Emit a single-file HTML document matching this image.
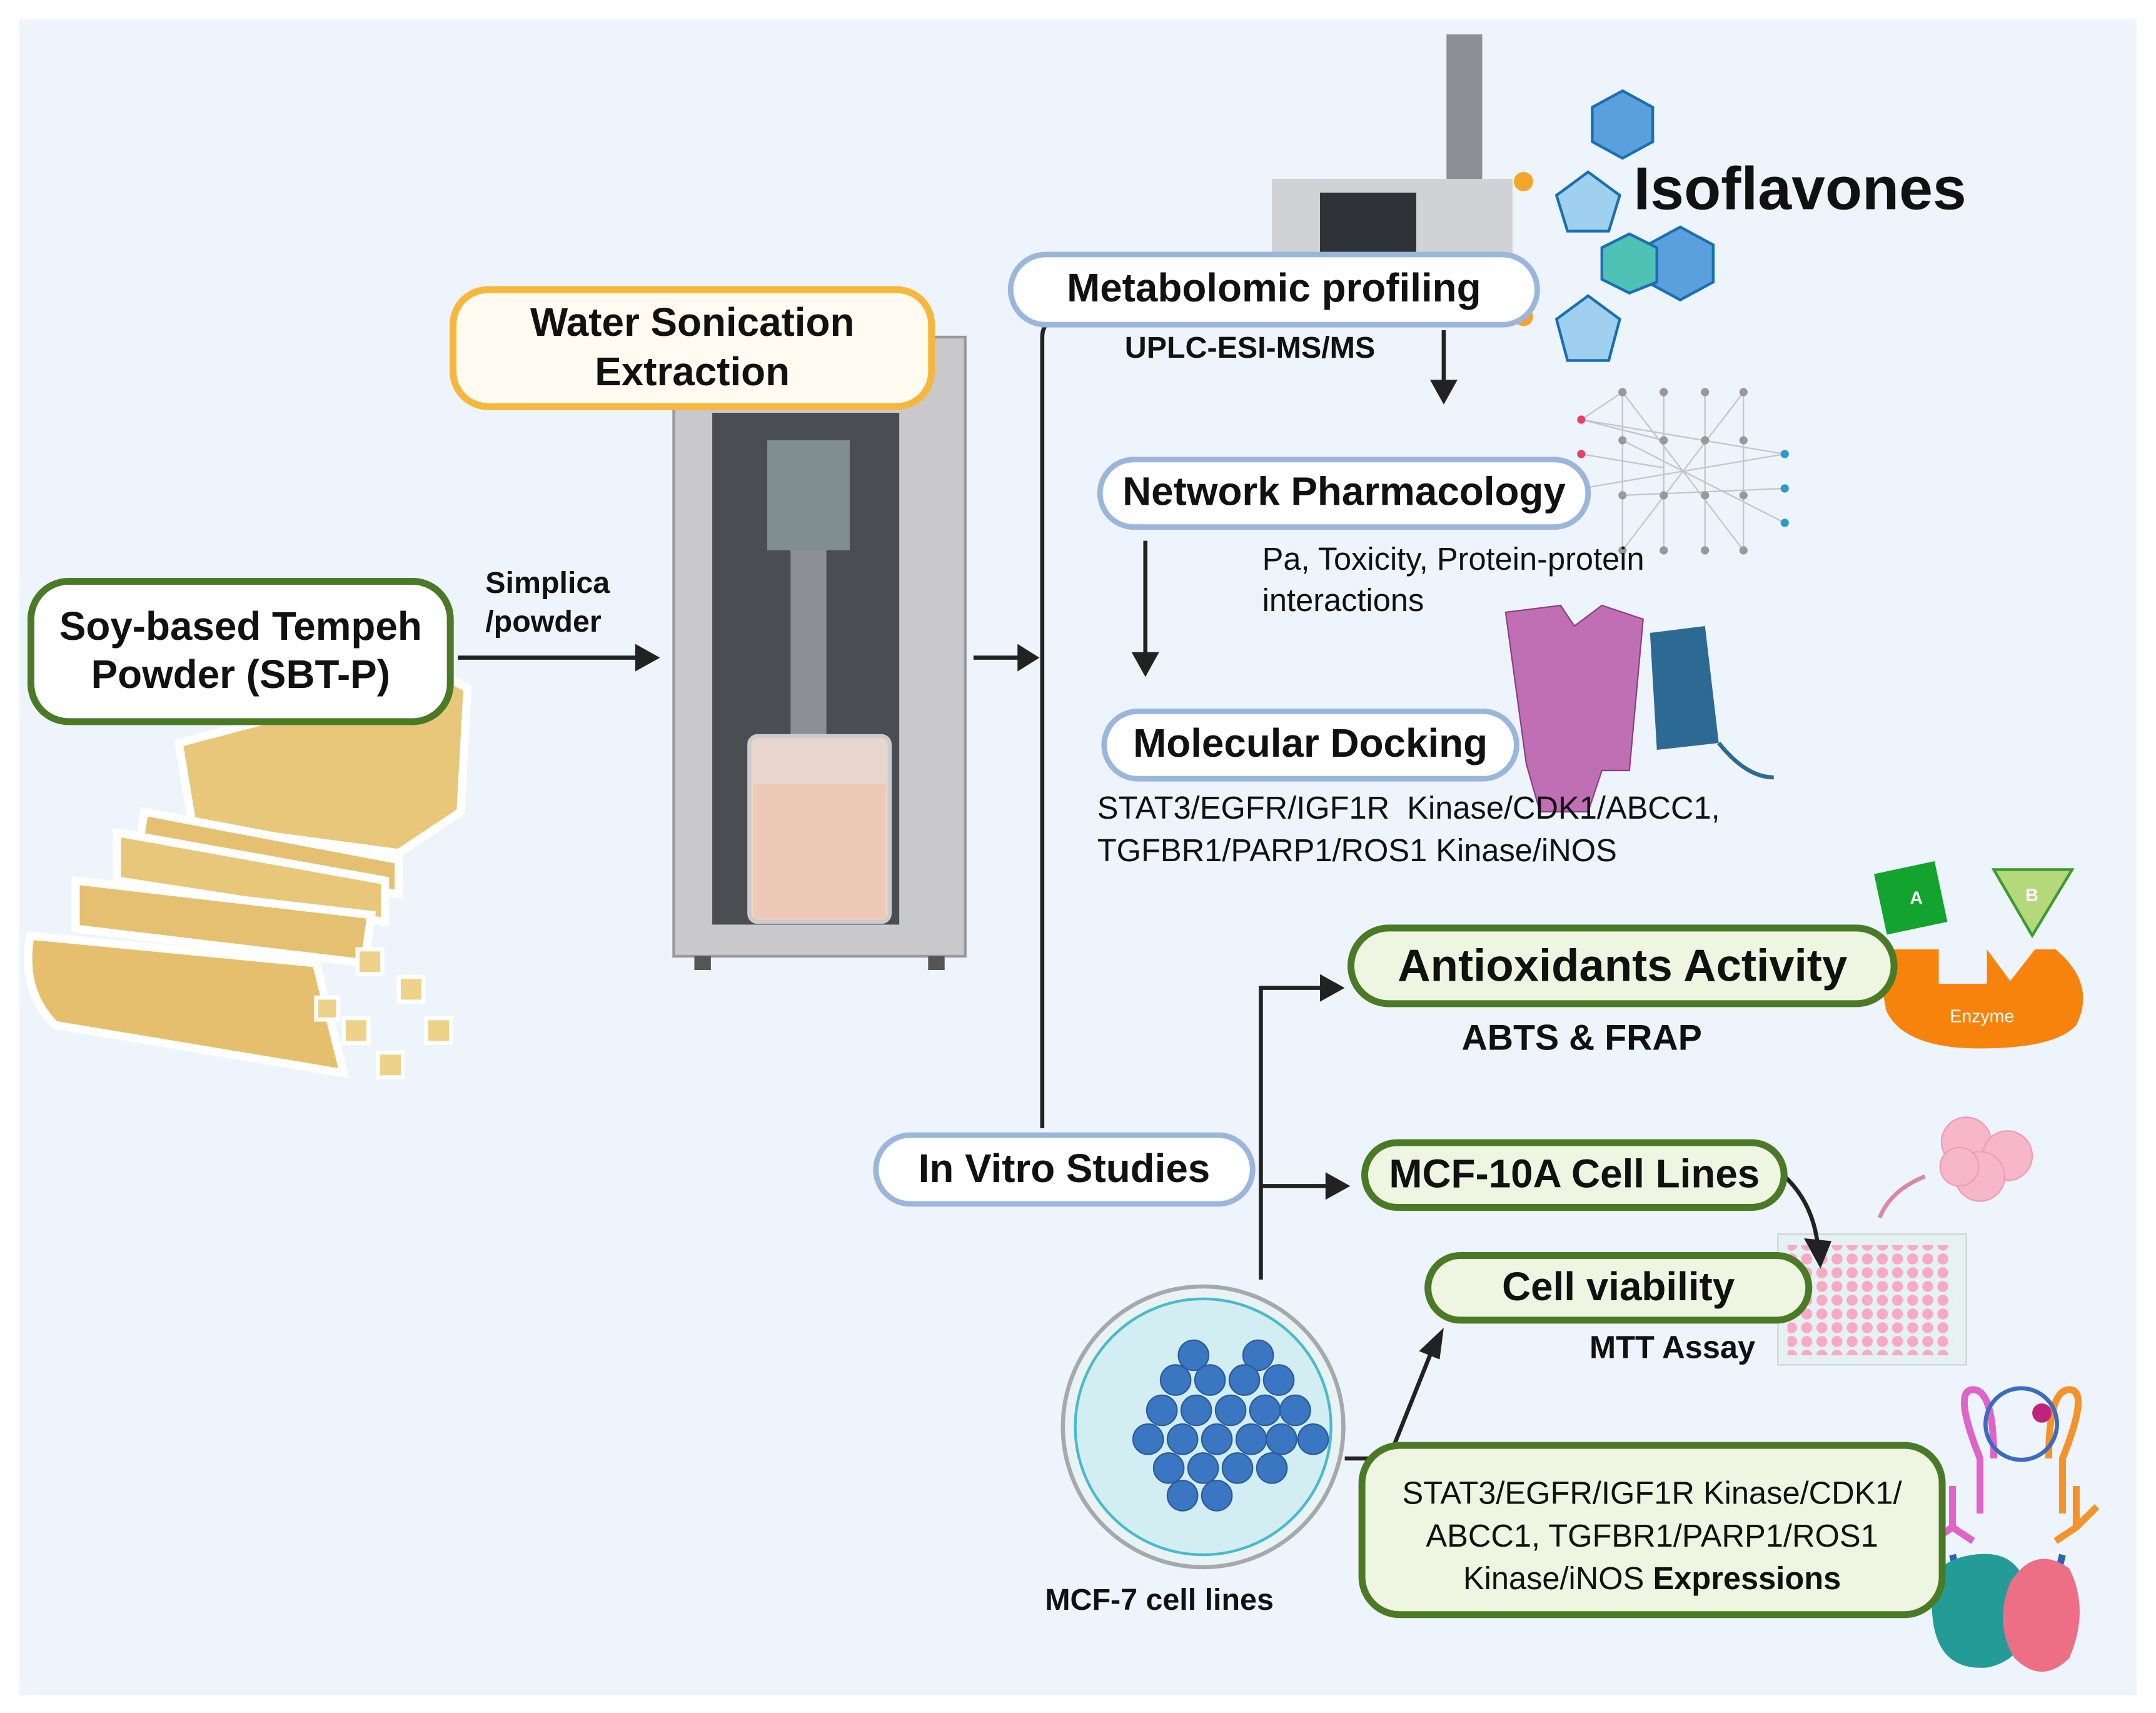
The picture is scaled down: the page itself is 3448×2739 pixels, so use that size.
<!DOCTYPE html>
<html><head><meta charset="utf-8">
<style>
html,body{margin:0;padding:0;background:#fff;}
#wrap{width:3448px;height:2739px;overflow:hidden;position:relative;background:#fff;}
#s{position:absolute;left:0;top:0;width:1568px;height:1245px;transform-origin:0 0;transform:scale(2.19898,2.2);font-family:"Liberation Sans",sans-serif;}
.bg{position:absolute;left:14px;top:14px;width:1540px;height:1218px;background:#edf4fb;}
.box{position:absolute;box-sizing:border-box;display:flex;align-items:center;justify-content:center;text-align:center;font-weight:bold;color:#111;}
.blue{border:4px solid #9bb6dd;background:#fff;border-radius:28px;font-size:29px;}
.green{border:5px solid #4b7a26;background:#eef6e2;border-radius:30px;}
.t{position:absolute;color:#111;white-space:nowrap;}
</style></head><body><div id="wrap"><div id="s">
<div class="bg"></div>
<svg width="1568" height="1245" style="position:absolute;left:0;top:0">
<defs><pattern id="p" width="11" height="10" patternUnits="userSpaceOnUse"><circle cx="5" cy="5" r="4" fill="#f7a9c6"/></pattern></defs>
<!-- sonicator -->
<rect x="490" y="245" width="212" height="450" fill="#c9c9cc" stroke="#9a9a9e" stroke-width="2"/>
<rect x="518" y="300" width="136" height="372" fill="#4a4d52"/>
<rect x="558" y="320" width="60" height="80" fill="#9aa" opacity=".7"/>
<rect x="575" y="400" width="26" height="140" fill="#8b8f94"/>
<rect x="545" y="535" width="102" height="135" fill="#e9d7cf" stroke="#ccc" stroke-width="3" rx="6"/>
<rect x="548" y="570" width="96" height="98" fill="#eec9b7"/>
<rect x="505" y="695" width="12" height="10" fill="#555"/><rect x="675" y="695" width="12" height="10" fill="#555"/>
<!-- ms instrument -->
<rect x="1052" y="25" width="26" height="110" fill="#8c8f94"/>
<rect x="925" y="130" width="175" height="55" fill="#d0d2d5"/>
<rect x="960" y="140" width="70" height="45" fill="#2f3236"/>
<!-- molecules -->
<g stroke="#1a6fb3" stroke-width="2">
<polygon points="1180,66 1202,78 1202,103 1180,115 1158,103 1158,78" fill="#5aa0dc"/>
<polygon points="1155,125 1178,142 1170,168 1140,168 1132,142" fill="#9fd0f0"/>
<polygon points="1222,165 1246,178 1246,205 1222,218 1198,205 1198,178" fill="#5aa0dc"/>
<polygon points="1185,170 1205,180 1205,205 1185,213 1165,203 1165,180" fill="#4fc1b5"/>
<polygon points="1155,215 1178,232 1170,262 1140,262 1132,232" fill="#9fd0f0"/>
</g>
<circle cx="1108" cy="132" r="7" fill="#f4a62a"/><circle cx="1108" cy="230" r="7" fill="#f4a62a"/>
<!-- network -->
<g stroke="#c4c4c4" stroke-width="1" fill="none">
<path d="M1150,305 L1180,285 M1150,305 L1210,320 M1150,330 L1210,340 M1180,285 L1268,400 M1180,400 L1268,285 M1150,355 L1298,330 M1210,285 L1210,400 M1240,285 L1240,400 M1180,285 L1180,400 M1268,285 L1268,400 M1180,320 L1298,380 M1180,360 L1298,355 M1150,305 L1298,330"/>
</g>
<g fill="#999">
<circle cx="1180" cy="285" r="3"/><circle cx="1210" cy="285" r="3"/><circle cx="1240" cy="285" r="3"/><circle cx="1268" cy="285" r="3"/>
<circle cx="1180" cy="320" r="3"/><circle cx="1210" cy="320" r="3"/><circle cx="1240" cy="320" r="3"/><circle cx="1268" cy="320" r="3"/>
<circle cx="1180" cy="360" r="3"/><circle cx="1210" cy="360" r="3"/><circle cx="1240" cy="360" r="3"/><circle cx="1268" cy="360" r="3"/>
<circle cx="1180" cy="400" r="3"/><circle cx="1210" cy="400" r="3"/><circle cx="1240" cy="400" r="3"/><circle cx="1268" cy="400" r="3"/>
</g>
<circle cx="1150" cy="305" r="3" fill="#e4406c"/><circle cx="1150" cy="330" r="3" fill="#e4406c"/>
<circle cx="1298" cy="330" r="3" fill="#2a9ad0"/><circle cx="1298" cy="355" r="3" fill="#2a9ad0"/><circle cx="1298" cy="380" r="3" fill="#2a9ad0"/>
<!-- proteins -->
<path d="M1095,445 L1135,440 L1145,455 L1165,440 L1195,450 L1185,560 L1165,560 L1155,590 L1120,590 L1110,555 Z" fill="#c06fb5" stroke="#8a3f85"/>
<path d="M1200,460 L1240,455 L1250,540 L1205,545 Z" fill="#2c6a94"/>
<path d="M1250,540 Q1270,565 1290,565" stroke="#2c6a94" stroke-width="3" fill="none"/>
<!-- enzyme -->
<rect x="1367" y="630" width="45" height="45" fill="#13a32f" transform="rotate(-12 1390 652)"/>
<text x="1389" y="657" fill="#fff" font-size="13" font-weight="bold" font-family="Liberation Sans">A</text>
<polygon points="1450,632 1507,632 1478,680" fill="#b5d97a" stroke="#3c9a30" stroke-width="2"/>
<text x="1473" y="655" fill="#fff" font-size="13" font-weight="bold" font-family="Liberation Sans">B</text>
<path d="M1375,690 L1410,690 L1410,715 L1445,715 L1445,690 L1462,713 L1480,690 L1495,690 Q1525,715 1510,745 Q1495,762 1440,762 Q1385,762 1372,735 Q1365,705 1375,690 Z" fill="#f7830d"/>
<text x="1418" y="743" fill="#fff" font-size="13" font-family="Liberation Sans">Enzyme</text>
<!-- cells / plate -->
<g fill="#f6b8c8" stroke="#f29ab0"><circle cx="1430" cy="830" r="18"/><circle cx="1460" cy="840" r="18"/><circle cx="1440" cy="855" r="18"/><circle cx="1425" cy="848" r="14"/></g>
<path d="M1400,855 Q1375,865 1367,885" stroke="#d98aa0" stroke-width="3" fill="none"/>
<rect x="1293" y="897" width="137" height="95" fill="#e6f1f2" stroke="#c8d6d8"/>
<rect x="1300" y="905" width="120" height="80" fill="url(#p)"/>
<!-- petri -->
<circle cx="875" cy="1037" r="102" fill="#e9f3f4" stroke="#a5a9ad" stroke-width="3"/>
<circle cx="875" cy="1037" r="93" fill="#d3eef3" stroke="#4ab9cf" stroke-width="2"/>
<g fill="#3a76c2" stroke="#2a5a9a">
<circle cx="868" cy="985" r="11"/><circle cx="915" cy="985" r="11"/><circle cx="855" cy="1003" r="11"/><circle cx="880" cy="1003" r="11"/><circle cx="905" cy="1003" r="11"/><circle cx="930" cy="1003" r="11"/>
<circle cx="845" cy="1025" r="11"/><circle cx="870" cy="1025" r="11"/><circle cx="895" cy="1025" r="11"/><circle cx="920" cy="1025" r="11"/><circle cx="942" cy="1025" r="11"/>
<circle cx="835" cy="1046" r="11"/><circle cx="860" cy="1046" r="11"/><circle cx="885" cy="1046" r="11"/><circle cx="910" cy="1046" r="11"/><circle cx="932" cy="1046" r="11"/><circle cx="955" cy="1046" r="11"/>
<circle cx="850" cy="1067" r="11"/><circle cx="875" cy="1067" r="11"/><circle cx="900" cy="1067" r="11"/><circle cx="925" cy="1067" r="11"/>
<circle cx="860" cy="1087" r="11"/><circle cx="885" cy="1087" r="11"/>
</g>
<!-- antibodies & protein complex -->
<g stroke-width="5" fill="none">
<path d="M1440,1100 L1440,1060 Q1420,1010 1435,1010 Q1450,1010 1450,1060" stroke="#e063c8"/>
<path d="M1500,1100 L1500,1060 Q1520,1010 1505,1010 Q1490,1010 1490,1060" stroke="#f6922a"/>
<circle cx="1470" cy="1035" r="26" stroke="#3a6bc0" stroke-width="3"/>
<path d="M1420,1080 L1420,1110 M1405,1120 L1420,1110 L1435,1120" stroke="#e063c8"/>
<path d="M1510,1080 L1510,1110 M1495,1120 L1510,1110 L1525,1095" stroke="#f6922a"/>
<path d="M1420,1130 L1425,1150 M1500,1130 L1495,1150" stroke="#2a64b8"/>
</g>
<circle cx="1485" cy="1027" r="7" fill="#c0247a"/>
<path d="M1405,1165 Q1400,1135 1435,1130 Q1470,1125 1475,1160 Q1480,1205 1445,1212 Q1405,1215 1405,1165 Z" fill="#239b96"/>
<path d="M1462,1150 Q1480,1122 1505,1140 Q1520,1170 1505,1205 Q1485,1225 1465,1205 Q1450,1180 1462,1150 Z" fill="#ec6f86"/>
<!-- tempeh -->
<g stroke="#fff" stroke-width="6">
<path d="M130,540 L320,490 L340,500 L335,590 L290,620 L140,600 Z" fill="#e8c77a"/>
<path d="M105,590 L290,625 L290,650 L100,620 Z" fill="#e5c070"/>
<path d="M85,605 L280,640 L280,670 L85,640 Z" fill="#e8c77a"/>
<path d="M55,640 L270,665 L265,700 L55,675 Z" fill="#e5c070"/>
<path d="M22,680 L230,700 L250,780 L40,745 Q15,720 22,680 Z" fill="#e6bf6e"/>
</g>
<g fill="#efd28a" stroke="#fff" stroke-width="3">
<rect x="260" y="690" width="18" height="18"/><rect x="290" y="710" width="18" height="18"/><rect x="250" y="740" width="18" height="18"/><rect x="310" y="740" width="18" height="18"/><rect x="275" y="765" width="18" height="18"/><rect x="230" y="725" width="16" height="16"/>
</g>
<!-- connectors -->
<g stroke="#222" stroke-width="3" fill="none">
<path d="M333,478 L465,478"/>
<path d="M708,478 L742,478"/>
<path d="M758,820 L758,245 Q758,230 780,228"/>
<path d="M1050,240 L1050,280"/>
<path d="M833,393 L833,478"/>
<path d="M917,930 L917,718 L962,718"/>
<path d="M917,862 L965,862"/>
<path d="M978,1060 L1010,1060 L1040,985"/>
<path d="M1292,850 Q1318,870 1322,905"/>
</g>
<g fill="#222">
<polygon points="480,478 462,468 462,488"/>
<polygon points="756,478 740,468 740,488"/>
<polygon points="1050,294 1040,276 1060,276"/>
<polygon points="833,492 823,474 843,474"/>
<polygon points="978,718 960,708 960,728"/>
<polygon points="982,862 964,852 964,872"/>
<polygon points="1050,965 1032,982 1047,988"/>
<polygon points="1324,922 1312,900 1332,902"/>
<circle cx="1010" cy="1060" r="6"/>
</g>
</svg>

<div class="box green" style="left:20px;top:420px;width:310px;height:107px;font-size:29px;line-height:35px;background:#fff;">Soy-based Tempeh<br>Powder (SBT-P)</div>
<div class="t" style="left:353px;top:410px;font-size:22px;font-weight:bold;line-height:28px;">Simplica<br>/powder</div>
<div class="box" style="left:327px;top:208px;width:353px;height:90px;border:5px solid #f6b73c;background:#fffbf0;border-radius:28px;font-size:29px;line-height:36px;">Water Sonication<br>Extraction</div>
<div class="box blue" style="left:733px;top:183px;width:387px;height:55px;">Metabolomic profiling</div>
<div class="t" style="left:818px;top:240px;font-size:22px;font-weight:bold;">UPLC-ESI-MS/MS</div>
<div class="t" style="left:1188px;top:113px;font-size:44px;font-weight:bold;">Isoflavones</div>
<div class="box blue" style="left:798px;top:332px;width:359px;height:53px;">Network Pharmacology</div>
<div class="t" style="left:918px;top:391px;font-size:23px;line-height:30px;">Pa, Toxicity, Protein-protein<br>interactions</div>
<div class="box blue" style="left:801px;top:515px;width:304px;height:53px;">Molecular Docking</div>
<div class="t" style="left:798px;top:572px;font-size:23px;line-height:31px;">STAT3/EGFR/IGF1R&nbsp; Kinase/CDK1/ABCC1,<br>TGFBR1/PARP1/ROS1 Kinase/iNOS</div>
<div class="box green" style="left:980px;top:672px;width:400px;height:60px;font-size:33px;">Antioxidants Activity</div>
<div class="t" style="left:1063px;top:739px;font-size:26px;font-weight:bold;">ABTS &amp; FRAP</div>
<div class="box blue" style="left:635px;top:823px;width:278px;height:54px;">In Vitro Studies</div>
<div class="box green" style="left:990px;top:828px;width:310px;height:52px;font-size:29px;">MCF-10A Cell Lines</div>
<div class="box green" style="left:1036px;top:910px;width:282px;height:52px;font-size:29px;">Cell viability</div>
<div class="t" style="left:1156px;top:966px;font-size:23px;font-weight:bold;">MTT Assay</div>
<div style="position:absolute;box-sizing:border-box;left:988px;top:1048px;width:427px;height:128px;border:5px solid #4b7a26;background:#eef6e2;border-radius:30px;font-size:23px;line-height:31px;text-align:center;color:#111;padding-top:17px;white-space:nowrap;">STAT3/EGFR/IGF1R Kinase/CDK1/<br>ABCC1, TGFBR1/PARP1/ROS1<br>Kinase/iNOS <b>Expressions</b></div>
<div class="t" style="left:760px;top:1150px;font-size:22px;font-weight:bold;">MCF-7 cell lines</div>
</div></div></body></html>
